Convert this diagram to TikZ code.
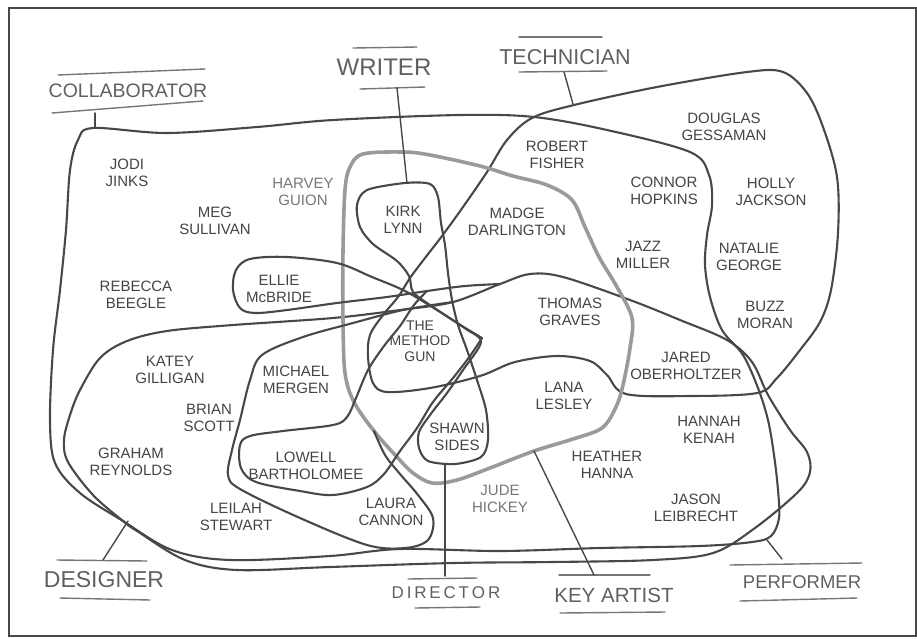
\documentclass[tikz,border=0pt]{standalone}
\usepackage{fontspec}
\setmainfont{Liberation Sans}
\definecolor{pencil}{RGB}{72,72,72}
\definecolor{ink}{RGB}{68,68,68}
\definecolor{paleink}{RGB}{118,118,118}
\tikzset{
  pen/.style={draw=pencil, line width=2.1pt, line cap=round, line join=round},
  thickpen/.style={draw=pencil!55, line width=3.6pt, line cap=round, line join=round},
  rulepen/.style={draw=pencil!75, line width=1.4pt, line cap=round},
  ptr/.style={draw=pencil, line width=1.4pt, line cap=round},
  who/.style={text=ink, align=center, font=\fontsize{15}{17}\selectfont, inner sep=0pt},
  whopale/.style={who, text=paleink},
  lbl/.style={text=ink!85, inner sep=0pt},
}
\begin{document}
\begin{tikzpicture}[x=1pt,y=-1pt]
\useasboundingbox (0,0) rectangle (917,638);
% frame
\draw[draw=pencil, line width=1.4pt] (9,8) rectangle (916,636);

% ---- loops ----
% outer loop (collaborator / performer)
\draw[pen] plot[smooth cycle, tension=0.55] coordinates {
 (93,128) (167,133) (257,127) (333,120) (460,115) (534,117) (607,130) (690,152)
 (709,175) (712,205) (707,235) (705,265) (710,297) (722,330) (743,355) (758,388)
 (768,420) (774,455) (778,490) (779,518) (771,536) (752,542) (700,546) (600,548)
 (500,551) (400,549) (330,556) (230,560) (172,550) (123,521) (80,493) (55,463)
 (50,420) (53,350) (60,290) (66,230) (70,170) (78,140)};

% designer loop
\draw[pen] plot[smooth cycle, tension=0.55] coordinates {
 (127,341) (167,331) (233,325) (333,318) (400,310) (453,302) (500,284) (530,274)
 (563,277) (630,300) (680,320) (727,340) (752,362) (768,395) (790,430) (807,452)
 (810,472) (798,492) (755,528) (713,553) (653,560) (553,562) (453,563) (330,567)
 (237,570) (185,560) (137,531) (123,521) (93,495) (68,462) (64,440) (70,415)
 (80,390) (100,358)};

% technician loop
\draw[pen] plot[smooth cycle, tension=0.55] coordinates {
 (574,105) (657,87) (747,72) (783,72) (807,93) (823,127) (837,177) (838,233)
 (831,290) (820,322) (800,350) (777,378) (757,393) (690,396) (626,394) (607,375)
 (590,361) (557,356) (515,362) (480,376) (430,388) (387,392) (373,383) (368,357)
 (370,335) (383,315) (398,297) (410,278) (425,258) (442,236) (463,207) (487,172)
 (507,140) (532,118)};

% key artist loop (thick, pale)
\draw[thickpen] plot[smooth cycle, tension=0.55] coordinates {
 (345,190) (350,167) (363,154) (403,152) (430,155) (480,166) (513,176) (547,185)
 (572,200) (585,227) (599,257) (617,287) (632,318) (630,348) (623,385) (616,407)
 (602,428) (573,439) (534,451) (490,468) (457,480) (432,483) (413,473) (397,457)
 (374,431) (354,402) (345,373) (343,320) (343,250)};

% writer loop (Kirk Lynn ... Shawn Sides)
\draw[pen] plot[smooth cycle, tension=0.5] coordinates {
 (367,190) (405,183) (430,184) (438,197) (441,223) (445,245) (448,273) (452,300)
 (458,325) (467,350) (477,380) (486,410) (488,440) (481,457) (455,464) (428,461)
 (419,448) (419,432) (430,415) (447,393) (463,370) (481,342) (466,329) (448,317)
 (430,305) (413,292) (409,276) (397,261) (373,244) (360,227) (357,205)};

% Ellie McBride loop
\draw[pen] plot[smooth, tension=0.55] coordinates {
 (482,338) (462,326) (437,310) (405,291) (372,277) (337,263) (287,257) (250,259)
 (236,270) (233,290) (240,308) (255,313) (287,310) (337,303) (387,297) (427,291)
 (465,286) (500,284)};

% Lowell Bartholomee loop with the two diagonals
\draw[pen] plot[smooth, tension=0.55] coordinates {
 (482,338) (470,356) (453,378) (433,402) (417,428) (400,451) (384,474) (367,487)
 (333,495) (300,491) (256,482) (241,468) (240,445) (250,436) (283,431) (333,425)
 (347,417) (356,398) (368,370) (384,346) (400,326) (414,305) (427,291)};

% Michael Mergen / Laura Cannon loop
\draw[pen] plot[smooth, tension=0.55] coordinates {
 (453,302) (403,310) (353,323) (303,337) (262,355) (250,380) (240,420) (232,450)
 (228,475) (240,489) (300,518) (367,545) (405,548) (428,540) (433,518) (418,495)
 (400,474) (385,455) (374,431)};

% ---- labels with rules ----
\node[lbl, font=\fontsize{19.5}{20}\selectfont] (collab) at (128,91) {COLLABORATOR};
\draw[rulepen] (58,75) -- (205,69);
\draw[rulepen] (52,113) -- (203,101);
\coordinate (collabtop) at (95,113);
\coordinate (collabend) at (95,128);
\draw[ptr] (collabtop) -- (collabend);

\node[lbl, font=\fontsize{24}{24}\selectfont] (writer) at (384,67) {WRITER};
\draw[rulepen] (353,48) -- (417,47);
\draw[rulepen] (360,89) -- (425,87);
\coordinate (writertop) at (397,88);
\coordinate (writerend) at (407,183);
\draw[ptr] (writertop) -- (writerend);

\node[lbl, font=\fontsize{21.5}{22}\selectfont] (tech) at (565,57) {TECHNICIAN};
\draw[rulepen] (519,37) -- (602,37);
\draw[rulepen] (519,72) -- (607,71);
\coordinate (techtop) at (564,72);
\coordinate (techend) at (573,104);
\draw[ptr] (techtop) -- (techend);

\node[lbl, font=\fontsize{23}{23}\selectfont] (designer) at (104,580) {DESIGNER};
\draw[rulepen] (57,560) -- (147,561);
\draw[rulepen] (60,598) -- (150,600);
\coordinate (desbase) at (103,560);
\coordinate (desend) at (128,521);
\draw[ptr] (desbase) -- (desend);

\node[lbl, font=\fontsize{17}{17}\selectfont] (director) at (446,593) {D\,I\,R\,E\,C\,T\,O\,R};
\draw[rulepen] (408,579) -- (477,578);
\draw[rulepen] (415,608) -- (480,607);
\coordinate (dirbase) at (445,576);
\coordinate (dirend) at (445,464);
\draw[ptr] (dirbase) -- (dirend);

\node[lbl, font=\fontsize{20.5}{21}\selectfont] (keyartist) at (614,595) {KEY ARTIST};
\draw[rulepen] (559,575) -- (650,575);
\draw[rulepen] (560,613) -- (665,612);
\coordinate (kabase) at (594,575);
\coordinate (kaend) at (534,451);
\draw[ptr] (kabase) -- (kaend);

\node[lbl, font=\fontsize{18.5}{19}\selectfont] (performer) at (802,582) {PERFORMER};
\draw[rulepen] (730,565) -- (862,563);
\draw[rulepen] (740,601) -- (857,598);
\coordinate (perfbase) at (782,559);
\coordinate (perfend) at (767,540);
\draw[ptr] (perfbase) -- (perfend);

% ---- names ----
\node[who] (jodi) at (127,173) {JODI\\JINKS};
\node[who] (meg) at (215,221) {MEG\\SULLIVAN};
\node[whopale] (harvey) at (303,192) {HARVEY\\GUION};
\node[who] (kirk) at (403,220) {KIRK\\LYNN};
\node[who] (rebecca) at (136,295) {REBECCA\\BEEGLE};
\node[who] (ellie) at (279,289) {ELLIE\\McBRIDE};
\node[who] (robert) at (557,155) {ROBERT\\FISHER};
\node[who] (douglas) at (724,127) {DOUGLAS\\GESSAMAN};
\node[who] (connor) at (664,191) {CONNOR\\HOPKINS};
\node[who] (holly) at (771,192) {HOLLY\\JACKSON};
\node[who] (madge) at (517,222) {MADGE\\DARLINGTON};
\node[who] (jazz) at (643,255) {JAZZ\\MILLER};
\node[who] (natalie) at (749,257) {NATALIE\\GEORGE};
\node[who] (buzz) at (765,315) {BUZZ\\MORAN};
\node[who] (thomas) at (570,312) {THOMAS\\GRAVES};
\node[who, font=\fontsize{14}{15.5}\selectfont] (methodgun) at (420,341) {THE\\METHOD\\GUN};
\node[who] (katey) at (170,370) {KATEY\\GILLIGAN};
\node[who] (brian) at (209,418) {BRIAN\\SCOTT};
\node[who] (michael) at (296,380) {MICHAEL\\MERGEN};
\node[who] (graham) at (131,462) {GRAHAM\\REYNOLDS};
\node[who] (lowell) at (306,466) {LOWELL\\BARTHOLOMEE};
\node[who] (leilah) at (236,517) {LEILAH\\STEWART};
\node[who] (laura) at (391,512) {LAURA\\CANNON};
\node[who] (shawn) at (457,437) {SHAWN\\SIDES};
\node[who] (lana) at (564,396) {LANA\\LESLEY};
\node[who] (jared) at (686,366) {JARED\\OBERHOLTZER};
\node[who] (hannah) at (709,430) {HANNAH\\KENAH};
\node[who] (heather) at (607,465) {HEATHER\\HANNA};
\node[whopale] (jude) at (500,499) {JUDE\\HICKEY};
\node[who] (jason) at (696,508) {JASON\\LEIBRECHT};
\end{tikzpicture}
\end{document}
